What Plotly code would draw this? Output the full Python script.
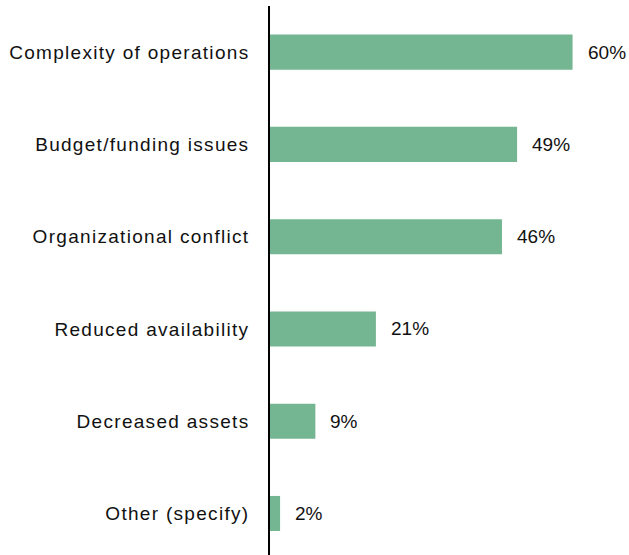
import plotly.graph_objects as go

categories = [
    "Other (specify)",
    "Decreased assets",
    "Reduced availability",
    "Organizational conflict",
    "Budget/funding issues",
    "Complexity of operations",
]
values = [2, 9, 21, 46, 49, 60]
value_labels = [f"{v}%" for v in values]

bar_color = "#75b692"
text_color = "#111111"
font_family = "Liberation Sans, Arial, sans-serif"

# category labels are set slightly letter-spaced
tick_text = [f'<span style="letter-spacing:1.3px">{c}</span>' for c in categories]

fig = go.Figure(
    go.Bar(
        x=values,
        y=categories,
        orientation="h",
        marker=dict(color=bar_color, line=dict(width=0)),
        hoverinfo="skip",
    )
)

# value labels just to the right of each bar
for v, c, t in zip(values, categories, value_labels):
    fig.add_annotation(
        x=v, y=c, text=t, showarrow=False,
        xanchor="left", yanchor="middle", xshift=13,
        font=dict(family=font_family, size=19, color=text_color),
    )

fig.update_layout(
    width=629,
    height=555,
    margin=dict(l=270, r=5, t=6, b=0),
    paper_bgcolor="white",
    plot_bgcolor="white",
    showlegend=False,
    bargap=0.62,
    font=dict(family=font_family, size=19, color=text_color),
    xaxis=dict(
        range=[0, 70.2],
        visible=False,
        showgrid=False,
        zeroline=False,
    ),
    yaxis=dict(
        range=[-0.45, 5.5],
        tickmode="array",
        tickvals=categories,
        ticktext=tick_text,
        showline=True,
        linecolor="black",
        linewidth=1.5,
        showgrid=False,
        zeroline=False,
        ticks="",
        ticklabelstandoff=15,
        tickfont=dict(family=font_family, size=19, color=text_color),
    ),
)

fig.write_html("out.html")
